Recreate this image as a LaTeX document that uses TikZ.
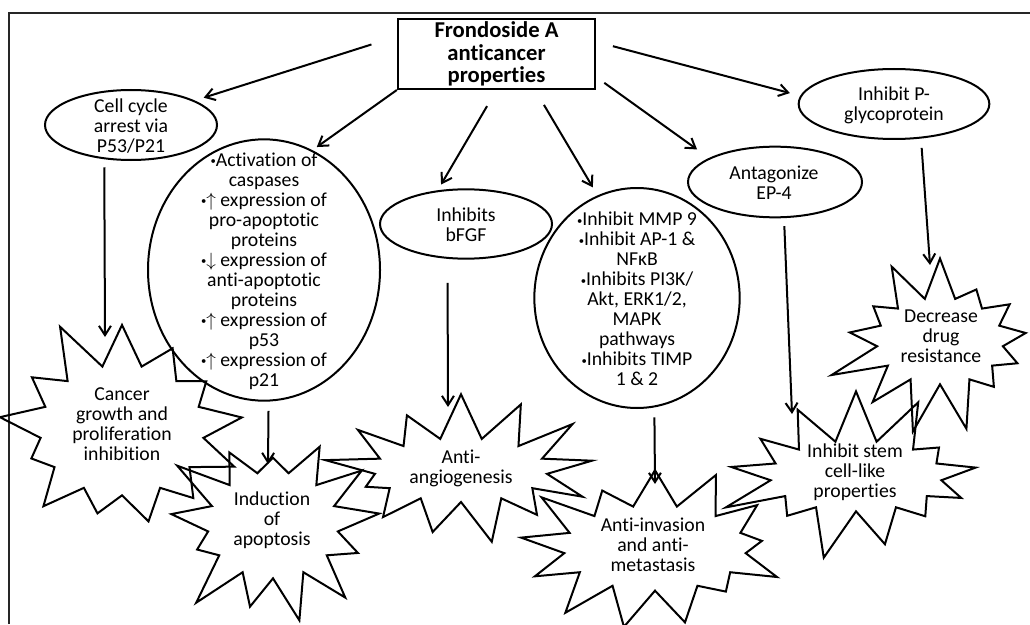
\documentclass[tikz,border=0pt]{standalone}
\usepackage{fontspec}
\setmainfont{Carlito}[Ligatures=NoCommon]
\usetikzlibrary{shapes.geometric,shapes.symbols,arrows.meta}
\newcommand\bul{\raisebox{1.2pt}{\fontsize{8}{8}\selectfont•}}

\begin{document}
\begin{tikzpicture}[x=0.75pt, y=-0.75pt, line width=1.5pt,
  font=\fontsize{14.8}{15}\selectfont,
  oval/.style={ellipse, draw, inner sep=0pt},
  burst/.style={starburst, draw, inner sep=0pt, starburst points=13, starburst point height=40pt, random starburst=#1},
  txt/.style={align=center, inner sep=0pt},
  arr/.style={-{Straight Barb[length=7pt,width=9pt]}}]
  \useasboundingbox (0,0) rectangle (1030,624);
  % frame
  \draw[black!85] (9,624) -- (9,13) -- (1030,13);

  % centre box
  \node[draw, inner sep=0pt, minimum width=148pt, minimum height=52.5pt, align=center,
    font=\fontsize{17}{16.9}\selectfont\bfseries] (title) at (496.5,54) {Frondoside A\\anticancer\\properties};

  % ellipses
  \node[oval, minimum width=129pt, minimum height=52.5pt] (cc) at (131,125) {};
  \node[txt] (cc-t) at (131,126) {Cell cycle\\arrest via\\P53/P21};
  \node[oval, minimum width=174pt, minimum height=196pt] (apo) at (264,270) {};
  \node[txt] (apo-t) at (264,271) {\bul Activation of\\caspases\\\bul$\uparrow$ expression of\\pro-apoptotic\\proteins\\\bul$\downarrow$ expression of\\anti-apoptotic\\proteins\\\bul$\uparrow$ expression of\\p53\\\bul$\uparrow$ expression of\\p21};
  \node[oval, minimum width=129pt, minimum height=52pt] (bfgf) at (466,224) {};
  \node[txt] (bfgf-t) at (466,225) {Inhibits\\bFGF};
  \node[oval, minimum width=154pt, minimum height=165pt] (mmp) at (637,298) {};
  \node[txt] (mmp-t) at (637,299) {\bul Inhibit MMP 9\\\bul Inhibit AP-1 \&\\NFκB\\\bul Inhibits PI3K/\\Akt, ERK1/2,\\MAPK\\pathways\\\bul Inhibits TIMP\\1 \& 2};
  \node[oval, minimum width=130.5pt, minimum height=53pt] (ep4) at (775,182) {};
  \node[txt] (ep4-t) at (774,183) {Antagonize\\EP-4};
  \node[oval, minimum width=143pt, minimum height=52.5pt] (pgp) at (894,104) {};
  \node[txt] (pgp-t) at (894,105) {Inhibit P-\\glycoprotein};

  % outcomes
  \node[burst=11, minimum width=203pt, minimum height=178pt] (cancer) at (122,430) {};
  \node[txt] (cancer-t) at (122,424) {Cancer\\growth and\\proliferation\\inhibition};
  \node[burst=23, minimum width=178pt, minimum height=160pt] (ind) at (273,525) {};
  \node[txt] (ind-t) at (272,520) {Induction\\of\\apoptosis};
  \node[burst=37, minimum width=210pt, minimum height=128pt] (angio) at (461,470) {};
  \node[txt] (angio-t) at (461,468) {Anti-\\angiogenesis};
  \node[burst=41, minimum width=217pt, minimum height=144pt] (inv) at (655,548) {};
  \node[txt] (inv-t) at (653,545) {Anti-invasion\\and anti-\\metastasis};
  \node[burst=53, minimum width=209pt, minimum height=133pt] (stem) at (856,476) {};
  \node[txt] (stem-t) at (855,472) {Inhibit stem\\cell-like\\properties};
  \node[burst=67, minimum width=175pt, minimum height=145pt] (drug) at (940,341) {};
  \node[txt] (drug-t) at (941,336) {Decrease\\drug\\resistance};

  % arrow tips below the ellipses
  \coordinate (cancer-in) at (105,337);
  \coordinate (ind-in) at (268,464);
  \coordinate (angio-in) at (448,407);
  \coordinate (inv-in) at (655,484);
  \coordinate (stem-in) at (792,414);
  \coordinate (drug-in) at (930,265);

  \draw[arr, shorten <=20pt, shorten >=7pt] (title.170) -- (cc.21);
  \draw[arr, shorten >=4pt] (title.south west) -- (apo.68);
  \draw[arr, shorten <=14pt, shorten >=5pt] (title.south) -- (bfgf.130);
  \draw[arr, shorten <=13pt, shorten >=7pt] (title.-43) -- (mmp.111);
  \draw[arr, shorten <=7.5pt, shorten >=11pt] (title.-13) -- (ep4.160);
  \draw[arr, shorten <=13pt, shorten >=8pt] (title.7) -- (pgp.175);

  \draw[arr, shorten <=6pt] (cc.-128) -- (cancer-in);
  \draw[arr, shorten <=7pt] (apo.-88) -- (ind-in);
  \draw[arr, shorten <=18pt] (bfgf.-118) -- (angio-in);
  \draw[arr, shorten <=7.5pt] (mmp.-81) -- (inv-in);
  \draw[arr, shorten <=6pt] (ep4.-76) -- (stem-in);
  \draw[arr, shorten <=7pt] (pgp.-52) -- (drug-in);
\end{tikzpicture}
\end{document}
